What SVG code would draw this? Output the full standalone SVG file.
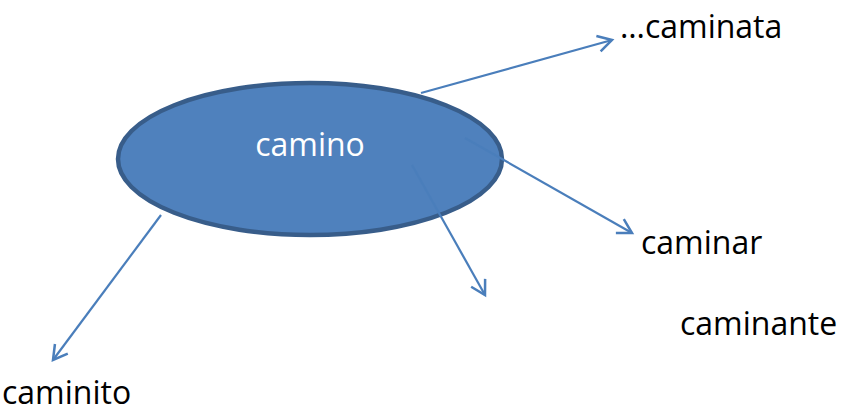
<svg xmlns="http://www.w3.org/2000/svg" width="846" height="414" viewBox="0 0 846 414">
<style>
.lbl{font-family:"Open Sans","Liberation Sans",sans-serif;font-size:32px;fill:#000}
.c{stroke:#4a7ebb;stroke-width:2.2;fill:none;marker-end:url(#ah)}
</style>
<defs>
<marker id="ah" markerUnits="userSpaceOnUse" markerWidth="20" markerHeight="20" viewBox="-16 -10 20 20" refX="0" refY="0" orient="auto">
<path d="M-14,-8 L0,0 L-14,8" fill="none" stroke="#4a7ebb" stroke-width="2.5"/>
</marker>
</defs>
<rect width="846" height="414" fill="#fff"/>
<g id="camino">
<ellipse cx="310" cy="159" rx="192" ry="76" fill="#4f81bd" stroke="#385d8a" stroke-width="4.5"/>
<text x="310" y="156" text-anchor="middle" class="lbl" style="fill:#fff">camino</text>
</g>
<g id="connectors">
<line class="c" x1="421" y1="93" x2="612" y2="40"/>
<line class="c" x1="465" y1="138" x2="632" y2="233"/>
<line class="c" x1="412" y1="165" x2="485" y2="295"/>
<line class="c" x1="161" y1="215" x2="53" y2="360"/>
</g>
<g id="caminata"><text x="620" y="38" class="lbl">…caminata</text></g>
<g id="caminar"><text x="641" y="254" class="lbl">caminar</text></g>
<g id="caminante"><text x="680" y="335" class="lbl">caminante</text></g>
<g id="caminito"><text x="2" y="404" class="lbl">caminito</text></g>
</svg>
